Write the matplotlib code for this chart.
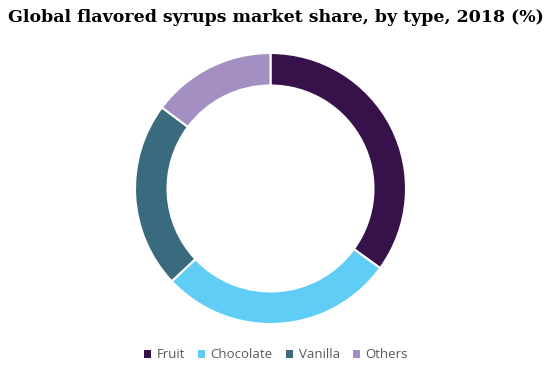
import matplotlib
matplotlib.use("Agg")
from matplotlib import pyplot as plt
from matplotlib.patches import Patch

# market share by type, 2018 (%)
types = ['Fruit', 'Chocolate', 'Vanilla', 'Others']
shares = [35.0, 28.0, 22.2, 14.8]
colors = ['#37114a', '#5fcdf6', '#3a6a7e', '#a38fc2']

fig = plt.figure(figsize=(5.52, 3.76), dpi=100)
ax = fig.add_axes([135 / 552, 52 / 376, 271 / 552, 271 / 376])

ax.pie(shares, colors=colors, startangle=90, counterclock=False,
       wedgeprops=dict(width=0.24, edgecolor='white', linewidth=1.5))
ax.set_xlim(-1, 1)
ax.set_ylim(-1, 1)
ax.set_aspect('equal')
ax.axis('off')

fig.text(0.5, 1 - 18 / 376, 'Global flavored syrups market share, by type, 2018 (%)',
         ha='center', va='center', fontsize=12.5, fontweight='bold',
         family='DejaVu Serif', color='black')

handles = [Patch(facecolor=c, edgecolor='none', label=t) for t, c in zip(types, colors)]
fig.legend(handles=handles, loc='center', bbox_to_anchor=(0.5, 1 - 355 / 376), ncol=4,
           frameon=False, handlelength=0.55, handleheight=0.55, handletextpad=0.4,
           columnspacing=1.0, prop=dict(family='Open Sans', size=9.5), labelcolor='#595959')

fig.savefig('out.png', dpi=100)
